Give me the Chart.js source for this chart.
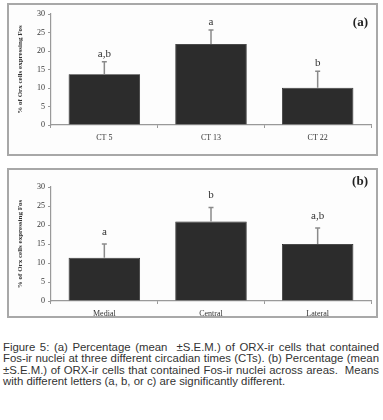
<!DOCTYPE html>
<html>
<head>
<meta charset="utf-8">
<script src="https://cdn.jsdelivr.net/npm/chart.js@4.4.1/dist/chart.umd.min.js"></script>
<style>
  html, body { margin: 0; padding: 0; background: #fff; width: 383px; height: 420px; overflow: hidden; }
  .panel { position: absolute; box-sizing: border-box; border: 2px solid #a8a8a8; background: #fdfdfd; }
  .panel canvas { position: absolute; left: 0; top: 0; }
  #caption { position: absolute; left: 3px; top: 341px; width: 376px; transform-origin: 0 0; font-family: "Liberation Sans", Arial, sans-serif; font-size: 11.6px; line-height: 11.4px; color: #333; }
  #caption div { text-align: justify; text-align-last: justify; white-space: nowrap; }
  #caption div.last { text-align-last: left; }
  #measure { position: absolute; left: 0; top: 0; visibility: hidden; white-space: nowrap; font-family: "Liberation Sans", Arial, sans-serif; font-size: 11.6px; }
</style>
</head>
<body>
<div class="panel" id="pa" style="left:7px; top:3px; width:371px; height:153px;"><canvas id="ca"></canvas></div>
<div class="panel" id="pb" style="left:7px; top:168px; width:371px; height:150px;"><canvas id="cb"></canvas></div>
<div id="caption">
  <div>Figure 5: (a) Percentage (mean &nbsp;±S.E.M.) of ORX-ir cells that contained</div>
  <div id="tight">Fos-ir nuclei at three different circadian times (CTs). (b) Percentage (mean</div>
  <div>±S.E.M.) of ORX-ir cells that contained Fos-ir nuclei across areas. &nbsp;Means</div>
  <div class="last">with different letters (a, b, or c) are significantly different.</div>
</div>
<span id="measure"></span>
<script>
// ---- data ----
const categoriesA = ['CT 5', 'CT 13', 'CT 22'];
const meansA = [13.7, 21.9, 10.1];
const semA = [3.4, 3.8, 4.4];
const lettersA = ['a,b', 'a', 'b'];

const categoriesB = ['Medial', 'Central', 'Lateral'];
const meansB = [11.4, 20.9, 15.0];
const semB = [3.6, 3.7, 4.2];
const lettersB = ['a', 'b', 'a,b'];

const yMax = 30;
const yStep = 5;
const yTitle = '% of Orx cells expressing Fos';
const panelLabels = ['(a)', '(b)'];

// ---- caption condensing (narrow face emulation) ----
(function () {
  const m = document.getElementById('measure');
  m.textContent = document.getElementById('tight').textContent;
  const natural = m.getBoundingClientRect().width;
  const target = 374;
  const s = Math.min(1, target / natural);
  const cap = document.getElementById('caption');
  cap.style.width = (376 / s) + 'px';
  cap.style.transform = 'scaleX(' + s + ')';
})();

// ---- plugin: error bars + letters + panel label ----
const annot = {
  id: 'annot',
  afterDatasetsDraw(chart, args, opts) {
    const ctx = chart.ctx;
    const y = chart.scales.y;
    const meta = chart.getDatasetMeta(0);
    ctx.save();
    opts.means.forEach((m, i) => {
      const cx = meta.data[i].x;
      const yTop = y.getPixelForValue(m);
      const yErr = y.getPixelForValue(m + opts.sem[i]);
      ctx.strokeStyle = '#8a8a8a';
      ctx.lineWidth = 1.5;
      ctx.beginPath();
      ctx.moveTo(cx, yTop);
      ctx.lineTo(cx, yErr);
      ctx.moveTo(cx - 2.5, yErr);
      ctx.lineTo(cx + 2.5, yErr);
      ctx.stroke();
      ctx.fillStyle = '#333';
      ctx.font = '11px "Liberation Serif", serif';
      ctx.textAlign = 'center';
      ctx.textBaseline = 'middle';
      ctx.fillText(opts.letters[i], cx, yErr - opts.letterGap);
    });
    ctx.font = 'bold 13px "Liberation Serif", serif';
    ctx.textAlign = 'right';
    ctx.textBaseline = 'middle';
    ctx.fillStyle = '#222';
    ctx.fillText(opts.label, chart.width - 8, opts.labelY);
    ctx.restore();
  }
};

function makeChart(id, cats, means, sem, letters, label, cfg) {
  const el = document.getElementById(id);
  el.width = cfg.w; el.height = cfg.h;
  return new Chart(el, {
    type: 'bar',
    data: {
      labels: cats,
      datasets: [{
        data: means,
        backgroundColor: '#2c2c2c',
        borderColor: '#1e1e1e',
        borderWidth: 0.8,
        barPercentage: 0.67,
        categoryPercentage: 1.0
      }]
    },
    options: {
      responsive: false,
      animation: false,
      devicePixelRatio: 1,
      layout: { padding: { top: cfg.padTop, right: 5, left: 0, bottom: 0 } },
      plugins: {
        legend: { display: false },
        tooltip: { enabled: false },
        annot: { means: means, sem: sem, letters: letters, label: label, labelY: cfg.labelY, letterGap: cfg.letterGap }
      },
      scales: {
        x: {
          grid: { drawOnChartArea: false, drawTicks: true, tickLength: 3, color: '#999', offset: true },
          border: { color: '#999', width: 1.2 },
          ticks: { color: '#333', font: { family: '"Liberation Serif", serif', size: 8 }, padding: 5, maxRotation: 0 },
          afterFit(s) { s.height = cfg.xH; }
        },
        y: {
          min: 0, max: yMax,
          grid: { drawOnChartArea: false, drawTicks: true, tickLength: 3, color: '#999' },
          border: { color: '#999', width: 1.2 },
          ticks: { stepSize: yStep, color: '#333', font: { family: '"Liberation Serif", serif', size: 8 }, padding: 3 },
          title: { display: true, text: yTitle, color: '#333', font: { family: '"Liberation Serif", serif', size: 7, weight: 'bold' }, padding: { top: 7, bottom: 0 } },
          afterFit(s) { s.width = 42; }
        }
      }
    },
    plugins: [annot]
  });
}

makeChart('ca', categoriesA, meansA, semA, lettersA, panelLabels[0], { w: 367, h: 149, padTop: 9, xH: 29, labelY: 18, letterGap: 8 });
makeChart('cb', categoriesB, meansB, semB, lettersB, panelLabels[1], { w: 367, h: 146, padTop: 17, xH: 15, labelY: 12, letterGap: 12 });
</script>
</body>
</html>
